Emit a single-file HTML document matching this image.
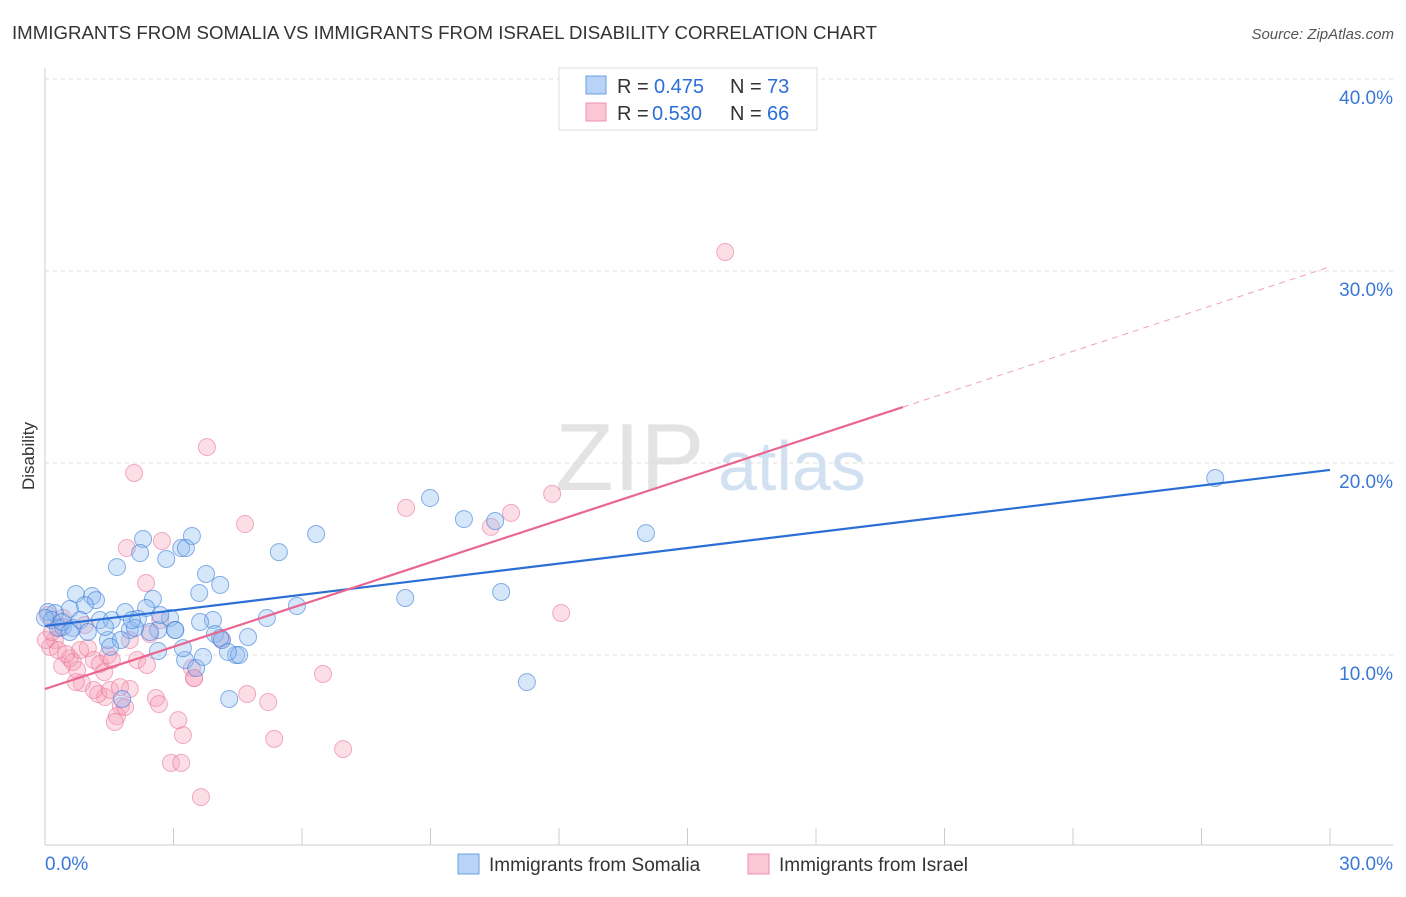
<!DOCTYPE html>
<html><head><meta charset="utf-8"><style>
body{margin:0;background:#fff;font-family:"Liberation Sans",sans-serif;}
svg text{font-family:"Liberation Sans",sans-serif;}
</style></head><body>
<svg id="chart" width="1406" height="892" xmlns="http://www.w3.org/2000/svg">
<text x="12" y="39" font-size="18" fill="#333" textLength="865" lengthAdjust="spacingAndGlyphs">IMMIGRANTS FROM SOMALIA VS IMMIGRANTS FROM ISRAEL DISABILITY CORRELATION CHART</text>
<text x="1394" y="39" font-size="15" fill="#555" text-anchor="end" font-style="italic">Source: ZipAtlas.com</text>
<text transform="translate(34,456) rotate(-90)" font-size="17" fill="#333" text-anchor="middle">Disability</text>
<g><text x="555" y="490" font-size="96" fill="#ddd" font-family="Liberation Serif" opacity="0.8">ZIP</text><text x="718" y="490" font-size="70" fill="#c8daf0" opacity="0.8">atlas</text></g>
<g id="grid"></g><g id="axes"></g><g id="pts"></g><g id="trends"></g>
<g>
<rect x="559" y="68" width="258" height="62" fill="#fff" stroke="#ddd"/>
<rect x="586" y="76" width="20" height="18" fill="#b8d3f5" stroke="#6a9fe0"/>
<rect x="586" y="103" width="20" height="18" fill="#fbc7d6" stroke="#ee8fab"/>
<text x="617" y="93" font-size="20" fill="#333">R =</text><text x="654" y="93" font-size="20" fill="#2a6ed6">0.475</text>
<text x="730" y="93" font-size="20" fill="#333">N =</text><text x="767" y="93" font-size="20" fill="#2a6ed6">73</text>
<text x="617" y="120" font-size="20" fill="#333">R =</text><text x="652" y="120" font-size="20" fill="#2a6ed6">0.530</text>
<text x="730" y="120" font-size="20" fill="#333">N =</text><text x="767" y="120" font-size="20" fill="#2a6ed6">66</text>
</g>
<g>
<rect x="458" y="854" width="21" height="20" fill="#b8d3f5" stroke="#6a9fe0"/>
<text x="489" y="871" font-size="19" fill="#333">Immigrants from Somalia</text>
<rect x="748" y="854" width="21" height="20" fill="#fbc7d6" stroke="#ee8fab"/>
<text x="779" y="871" font-size="19" fill="#333">Immigrants from Israel</text>
</g>
</svg>
<script>
const yTicks=[10,20,30,40];
const yTickLabels=["10.0%","20.0%","30.0%","40.0%"];
const xTicks=[3,6,9,12,15,18,21,24,27,30];
const somaliaX=[27.32,14.03,8.99,9.78,10.51,6.33,5.46,3.43,3.18,3.29,2.29,2.22,2.83,1.68,3.76,4.09,3.60,2.52,5.88,5.18,8.41,10.65,11.25,4.30,1.80,0.72,1.10,1.19,0.93,0.58,0.23,0.07,0.16,0.42,0.65,0.82,1.28,1.56,1.87,1.98,2.36,2.17,1.47,1.77,2.64,2.92,3.04,3.92,3.62,3.97,4.13,4.74,3.27,3.53,4.46,4.53,4.27,1.52,2.64,2.45,1.40,0.30,0.40,0,0.58,1.0,2.10,2.03,3.22,3.69,4.09,3.04,2.69];
const somaliaY=[19.22,16.35,18.18,17.08,16.98,16.30,15.36,16.20,15.57,15.57,16.04,15.31,15.0,14.58,14.22,13.65,13.23,12.92,12.55,11.93,12.97,13.28,8.59,7.71,7.71,13.18,13.07,12.86,12.60,12.40,12.19,12.24,11.82,11.46,11.41,11.82,11.82,11.82,12.24,11.30,12.45,11.88,10.78,10.78,11.30,11.93,11.30,11.82,11.72,11.09,10.78,10.94,9.74,9.32,10.0,10.0,10.16,10.42,10.21,11.20,11.46,11.41,11.72,11.93,11.20,11.20,11.41,11.82,10.36,9.90,10.89,11.30,12.08];
const israelX=[15.88,3.78,2.08,11.84,8.43,10.88,10.41,4.67,1.91,2.73,2.36,12.05,6.49,6.96,5.35,5.21,4.72,3.22,3.11,2.94,3.18,3.64,2.59,2.66,1.98,1.77,1.68,1.87,1.63,1.40,1.24,1.14,0.86,0.72,0.75,0.40,0.58,0.65,0.82,1.00,1.14,1.28,1.38,1.47,0.93,0.23,0.12,0.30,0.49,0.02,0.16,0.35,0.07,2.15,2.38,1.98,2.45,3.48,3.43,4.13,3.48,1.52,1.75,1.56,2.69,0.42];
const israelY=[30.99,20.83,19.48,18.39,17.66,17.40,16.67,16.82,15.57,15.94,13.75,12.19,9.01,5.10,5.63,7.55,7.97,5.83,6.61,4.38,4.38,2.60,7.76,7.45,8.23,7.34,6.82,7.29,6.51,7.81,7.97,8.18,8.54,8.59,9.22,9.43,9.84,9.64,10.26,10.36,9.74,9.53,9.11,10.0,11.56,10.78,10.42,10.26,10.05,10.78,11.20,11.41,12.08,9.74,9.48,10.78,11.09,8.80,9.32,10.78,8.80,8.18,8.33,9.74,11.82,11.93];
const somaliaTrend=[11.51,19.64];
const israelTrend=[8.23,0.733];
const NS="http://www.w3.org/2000/svg";
const X=v=>45+v/30*1285, Y=v=>847-v*19.2;
function mk(t,a,p){const e=document.createElementNS(NS,t);for(const k in a)e.setAttribute(k,a[k]);p.appendChild(e);return e;}
const grid=document.getElementById('grid'),axes=document.getElementById('axes');
yTicks.forEach((t,i)=>{const l=mk('line',{x1:45,x2:1393,y1:Y(t),y2:Y(t),stroke:'#ddd','stroke-dasharray':'4,4'},grid);


const tx=mk('text',{x:1393,y:Y(t)+25,'font-size':19,fill:'#3a78d8','text-anchor':'end'},axes);tx.textContent=yTickLabels[i];

});
const ax=mk('line',{x1:45,x2:1393,y1:845,y2:845,stroke:'#ccc'},axes);


const ay=mk('line',{x1:45,x2:45,y1:68,y2:845,stroke:'#ccc'},axes);


xTicks.forEach(t=>{const l=mk('line',{x1:X(t),x2:X(t),y1:828,y2:845,stroke:'#ccc'},axes);

});
[["0.0%",45,'start'],["30.0%",1393,'end']].forEach(a=>{const t=mk('text',{x:a[1],y:870,'font-size':19,fill:'#3a78d8','text-anchor':a[2]},axes);t.textContent=a[0];

});
const pts=document.getElementById('pts');
israelX.forEach((v,i)=>{const c=mk('circle',{cx:X(v),cy:Y(israelY[i]),r:8.5,fill:'rgba(246,160,186,0.35)',stroke:'rgba(232,110,150,0.55)','stroke-width':1},pts);

});
somaliaX.forEach((v,i)=>{const c=mk('circle',{cx:X(v),cy:Y(somaliaY[i]),r:8.5,fill:'rgba(140,185,240,0.35)',stroke:'rgba(60,125,215,0.6)','stroke-width':1},pts);

});
const tr=document.getElementById('trends');
const b=mk('line',{x1:X(0),y1:Y(somaliaTrend[0]),x2:X(30),y2:Y(somaliaTrend[1]),stroke:'#2a6ed6','stroke-width':2.2},tr);


const pe=20.03;
const p=mk('line',{x1:X(0),y1:Y(israelTrend[0]),x2:X(pe),y2:Y(israelTrend[0]+israelTrend[1]*pe),stroke:'#e8668f','stroke-width':2.2},tr);


const pd=mk('line',{x1:X(pe),y1:Y(israelTrend[0]+israelTrend[1]*pe),x2:X(30),y2:Y(israelTrend[0]+israelTrend[1]*30),stroke:'#f0a0b8','stroke-width':1,'stroke-dasharray':'6,5'},tr);


</script>
</body></html>
